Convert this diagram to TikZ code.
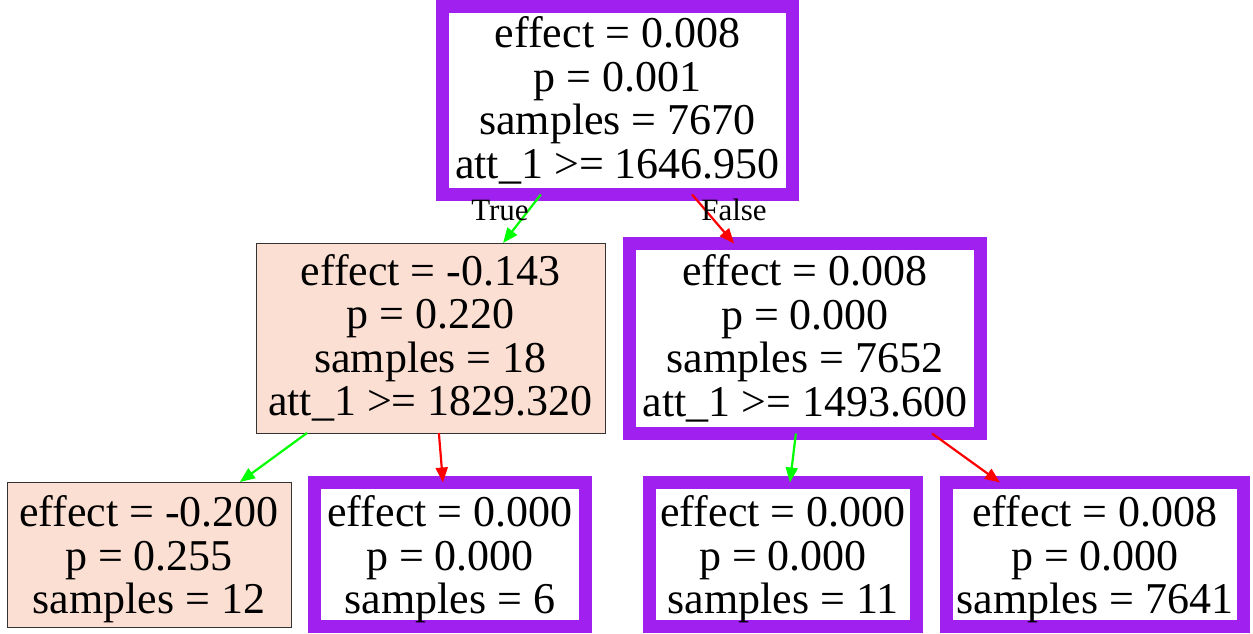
\documentclass[tikz,border=0pt]{standalone}
\usepackage{fontspec}
\setmainfont{Liberation Serif}
\usetikzlibrary{arrows.meta,calc}
\definecolor{gvpurple}{RGB}{160,32,240}
\definecolor{peach}{RGB}{252,223,211}
\definecolor{gvgreen}{RGB}{0,255,0}
\definecolor{gvred}{RGB}{255,0,0}
\newcommand{\lowtxt}[1]{\raisebox{28pt}[0pt][0pt]{\begin{tabular}[t]{@{}c@{}}#1\end{tabular}}}
\tikzset{
  txt/.style={font=\fontsize{44}{43.5}\selectfont, align=center},
  sel/.style={txt, draw=gvpurple, line width=13pt, fill=white, inner sep=0pt, outer sep=0pt},
  leafp/.style={txt, draw=black!80, line width=1pt, fill=peach, inner sep=0pt, outer sep=0pt},
  edge/.style={line width=2.2pt, -{Triangle[length=15pt,width=12pt]}},
  lbl/.style={font=\fontsize{31}{32}\selectfont, inner sep=0pt}
}
\begin{document}
\begin{tikzpicture}[x=1pt,y=-1pt]
\useasboundingbox (0,0) rectangle (1253,633);
\node[sel, minimum width=350pt, minimum height=188pt] (top) at (617.5,100.5)
  {effect = 0.008\\p = 0.001\\samples = 7670\\att\_1 >= 1646.950};
\node[leafp, minimum width=349pt, minimum height=190pt] (lm) at (430.5,338)
  {effect = -0.143\\p = 0.220\\samples = 18\\att\_1 >= 1829.320};
\node[sel, minimum width=351pt, minimum height=190pt] (rm) at (805,338.5)
  {effect = 0.008\\p = 0.000\\samples = 7652\\att\_1 >= 1493.600};
\node[leafp, minimum width=284pt, minimum height=145pt] (bl) at (149,554.5)
  {\lowtxt{effect = -0.200\\p = 0.255\\samples = 12}};
\node[sel, minimum width=271pt, minimum height=144pt] (b2) at (450,554.5)
  {\lowtxt{effect = 0.000\\p = 0.000\\samples = 6}};
\node[sel, minimum width=267pt, minimum height=144pt] (b3) at (783,554.5)
  {\lowtxt{effect = 0.000\\p = 0.000\\samples = 11}};
\node[sel, minimum width=297pt, minimum height=144pt] (b4) at (1095,554.5)
  {\lowtxt{effect = 0.008\\p = 0.000\\samples = 7641}};
\draw[edge, gvgreen] ($(top.south west)!0.281!(top.south east)$) -- ($(lm.north west)!0.708!(lm.north east)$);
\draw[edge, gvred] ($(top.south west)!0.713!(top.south east)$) -- ($(rm.north west)!0.298!(rm.north east)$);
\draw[edge, gvgreen] ($(lm.south west)!0.146!(lm.south east)$) -- ($(bl.north west)!0.82!(bl.north east)$);
\draw[edge, gvred] ($(lm.south west)!0.524!(lm.south east)$) -- ($(b2.north west)!0.474!(b2.north east)$);
\draw[edge, gvgreen] ($(rm.south west)!0.474!(rm.south east)$) -- ($(b3.north west)!0.526!(b3.north east)$);
\draw[edge, gvred] ($(rm.south west)!0.862!(rm.south east)$) -- ($(b4.north west)!0.18!(b4.north east)$);
\node[lbl] (ltrue) at (500,210) {True};
\node[lbl] (lfalse) at (734,210) {False};
\end{tikzpicture}
\end{document}
